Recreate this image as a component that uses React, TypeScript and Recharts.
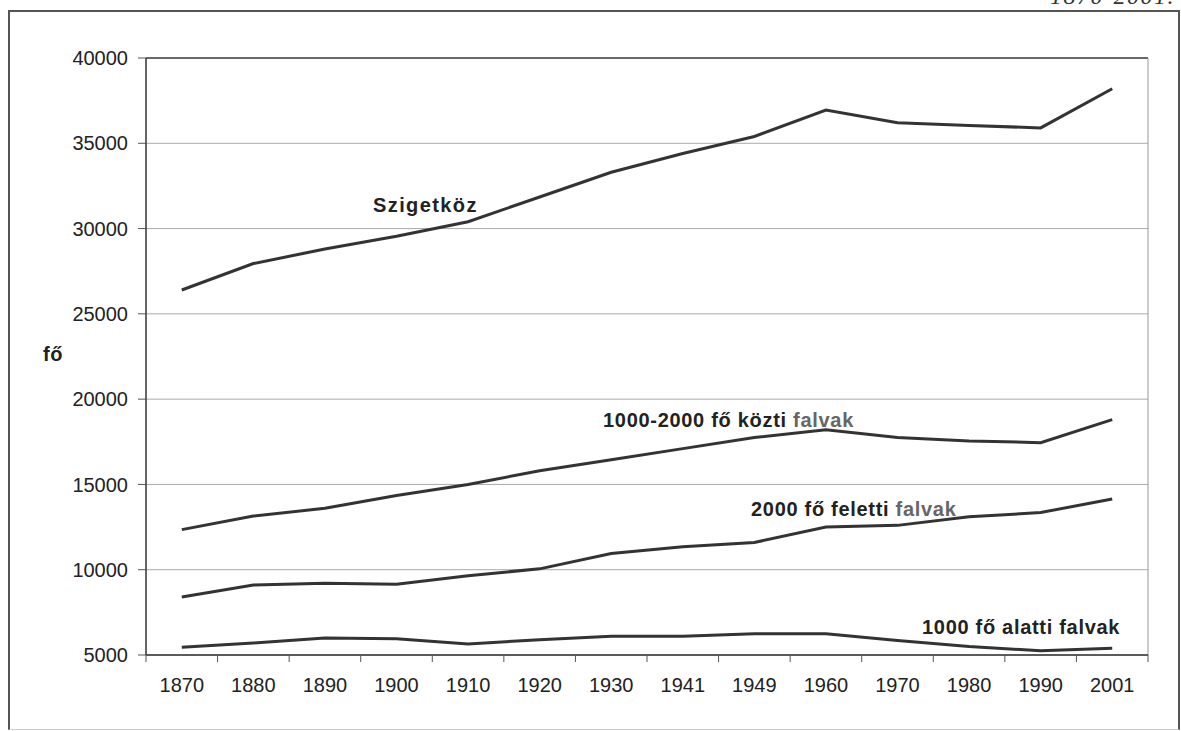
import React from "react";
import {
  CartesianGrid,
  Line,
  LineChart,
  ReferenceLine,
  XAxis,
  YAxis,
} from "recharts";

const YEARS = ["1870", "1880", "1890", "1900", "1910", "1920", "1930", "1941", "1949", "1960", "1970", "1980", "1990", "2001"];
const SZIGETKOZ = [26400, 27950, 28800, 29550, 30400, 31850, 33300, 34400, 35400, 36950, 36200, 36050, 35900, 38200];
const KOZTI = [12350, 13150, 13600, 14350, 15000, 15800, 16450, 17100, 17750, 18200, 17750, 17550, 17450, 18800];
const FELETTI = [8400, 9100, 9200, 9150, 9650, 10050, 10950, 11350, 11600, 12500, 12600, 13100, 13350, 14150];
const ALATTI = [5450, 5700, 6000, 5950, 5650, 5900, 6100, 6100, 6250, 6250, 5850, 5500, 5250, 5400];
const Y_TICKS = [5000, 10000, 15000, 20000, 25000, 30000, 35000, 40000];

const FONT = '"Liberation Sans", Arial, sans-serif';
const LINE = "#333";

const data = YEARS.map((year, i) => ({
  i,
  year,
  sziget: SZIGETKOZ[i],
  kozti: KOZTI[i],
  feletti: FELETTI[i],
  alatti: ALATTI[i],
}));

// integer ticks carry the year labels, half steps carry the tick marks between categories
const xTicks: number[] = [];
for (let k = -1; k < YEARS.length; k++) {
  xTicks.push(k + 0.5);
  if (k + 1 < YEARS.length) xTicks.push(k + 1);
}

function XTick(props: any) {
  const { x, y, payload } = props;
  const v = payload.value;
  if (Number.isInteger(v)) {
    return (
      <text x={x} y={y + 37} textAnchor="middle" fontSize={20} fontFamily={FONT} fill="#222">
        {YEARS[v]}
      </text>
    );
  }
  return <line x1={x} x2={x} y1={y} y2={y + 7} stroke="#555" strokeWidth={1} />;
}

const labelStyle: React.CSSProperties = {
  position: "absolute",
  fontFamily: FONT,
  fontWeight: "bold",
  fontSize: 20,
  letterSpacing: 0.7,
  color: "#222",
  whiteSpace: "nowrap",
  lineHeight: 1,
};

export default function App() {
  return (
    <div
      style={{
        position: "absolute",
        left: 0,
        top: 0,
        width: 1181,
        height: 731,
        background: "#fff",
        overflow: "hidden",
        fontFamily: FONT,
      }}
    >
      <div
        style={{
          position: "absolute",
          left: 1050,
          top: -16,
          fontFamily: '"Liberation Serif", serif',
          fontStyle: "italic",
          fontSize: 24,
          letterSpacing: 1.5,
          lineHeight: 1,
          color: "#333",
        }}
      >
        1870-2001.
      </div>
      <div
        style={{
          position: "absolute",
          left: 8,
          top: 10,
          width: 1168,
          height: 717,
          borderTop: "2px solid #555",
          borderLeft: "2px solid #555",
          borderRight: "2px solid #555",
          borderBottom: "1px solid #ccc",
        }}
      />
      <div style={{ position: "absolute", left: 0, top: 0 }}>
        <LineChart
          width={1181}
          height={731}
          data={data}
          margin={{ top: 58, right: 33, bottom: 26, left: 0 }}
        >
          <CartesianGrid vertical={false} stroke="#aaa" strokeWidth={1} />
          <XAxis
            dataKey="i"
            type="number"
            domain={[-0.5, YEARS.length - 0.5]}
            ticks={xTicks}
            interval={0}
            height={50}
            tickSize={0}
            tickMargin={0}
            tickLine={false}
            tick={<XTick />}
            axisLine={{ stroke: "#333", strokeWidth: 1.5 }}
          />
          <YAxis
            domain={[5000, 40000]}
            ticks={Y_TICKS}
            interval={0}
            width={146}
            tickSize={8}
            tickMargin={10}
            tickLine={{ stroke: "#555" }}
            axisLine={{ stroke: "#333", strokeWidth: 1.5 }}
            tick={{ fontSize: 20, fill: "#222", fontFamily: FONT }}
          />
          <ReferenceLine y={40000} stroke="#444" strokeWidth={1.5} />
          <ReferenceLine x={YEARS.length - 0.5} stroke="#999" strokeWidth={1} />
          <Line type="linear" dataKey="sziget" stroke={LINE} strokeWidth={3} dot={false} isAnimationActive={false} />
          <Line type="linear" dataKey="kozti" stroke={LINE} strokeWidth={3} dot={false} isAnimationActive={false} />
          <Line type="linear" dataKey="feletti" stroke={LINE} strokeWidth={3} dot={false} isAnimationActive={false} />
          <Line type="linear" dataKey="alatti" stroke={LINE} strokeWidth={3} dot={false} isAnimationActive={false} />
        </LineChart>
      </div>
      <div style={{ ...labelStyle, left: 43, top: 344 }}>fő</div>
      <div style={{ ...labelStyle, left: 373, top: 195, letterSpacing: 1.4 }}>Szigetköz</div>
      <div style={{ ...labelStyle, left: 603, top: 410 }}>
        1000-2000 fő közti <span style={{ color: "#666" }}>falvak</span>
      </div>
      <div style={{ ...labelStyle, left: 751, top: 499 }}>
        2000 fő feletti <span style={{ color: "#666" }}>falvak</span>
      </div>
      <div style={{ ...labelStyle, left: 922, top: 617 }}>1000 fő alatti falvak</div>
    </div>
  );
}
